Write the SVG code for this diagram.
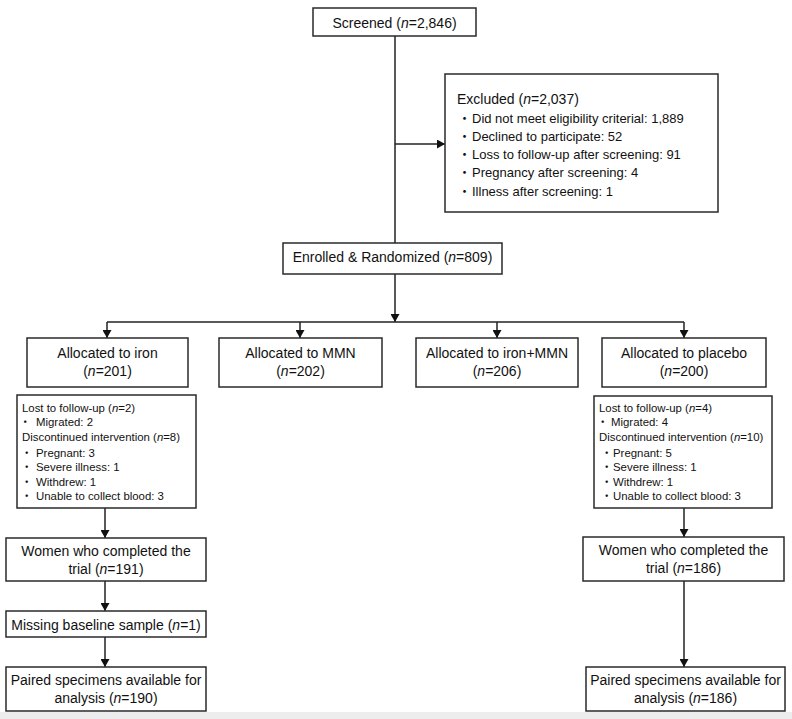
<svg xmlns="http://www.w3.org/2000/svg" width="792" height="719" viewBox="0 0 792 719">
<style>
.box{fill:#fff;stroke:#2a2a2a;stroke-width:1.5}
.ln{fill:none;stroke:#222;stroke-width:1.5}
text{font-family:"Liberation Sans",Arial,"Noto Sans CJK JP",sans-serif;fill:#111}
.m{font-size:14px;text-anchor:middle}
.e{font-size:13px}
.d{font-size:11.4px}
.i{font-style:italic}
</style>
<defs>
<marker id="ah" markerWidth="8" markerHeight="9" refX="8" refY="4.5" orient="auto" markerUnits="userSpaceOnUse"><path d="M0,0 L8,4.5 L0,9 z" fill="#111"/></marker>
</defs>
<rect width="792" height="719" fill="#fff"/>
<rect x="0" y="712" width="792" height="7" fill="#ededed"/>
<g id="connectors">
<path class="ln" d="M395,36 V243"/>
<path class="ln" d="M395,144 H445" marker-end="url(#ah)"/>
<path class="ln" d="M395,274 V322" marker-end="url(#ah)"/>
<path class="ln" d="M107,322 H684"/>
<path class="ln" d="M107,322 V338" marker-end="url(#ah)"/>
<path class="ln" d="M300,322 V338" marker-end="url(#ah)"/>
<path class="ln" d="M497,322 V338" marker-end="url(#ah)"/>
<path class="ln" d="M684,322 V338" marker-end="url(#ah)"/>
<path class="ln" d="M105,508 V538" marker-end="url(#ah)"/>
<path class="ln" d="M105,581 V611" marker-end="url(#ah)"/>
<path class="ln" d="M105,637 V667" marker-end="url(#ah)"/>
<path class="ln" d="M684,508 V537" marker-end="url(#ah)"/>
<path class="ln" d="M684,581 V667" marker-end="url(#ah)"/>
</g>
<g id="screened"><rect class="box" x="313" y="8" width="163" height="28"/><text class="m" x="394.5" y="28">Screened (<tspan class="i">n</tspan>=2,846)</text></g>
<g id="excluded"><rect class="box" x="445" y="74" width="273" height="138"/>
<text x="457" y="104" style="font-size:14px">Excluded (<tspan class="i">n</tspan>=2,037)</text>
<text class="e" y="122.5"><tspan x="458">・</tspan><tspan x="472">Did not meet eligibility criterial: 1,889</tspan></text>
<text class="e" y="140.8"><tspan x="458">・</tspan><tspan x="472">Declined to participate: 52</tspan></text>
<text class="e" y="159.1"><tspan x="458">・</tspan><tspan x="472">Loss to follow-up after screening: 91</tspan></text>
<text class="e" y="177.4"><tspan x="458">・</tspan><tspan x="472">Pregnancy after screening: 4</tspan></text>
<text class="e" y="195.7"><tspan x="458">・</tspan><tspan x="472">Illness after screening: 1</tspan></text>
</g>
<g id="enrolled"><rect class="box" x="283" y="243" width="219" height="31"/><text class="m" x="392.5" y="262">Enrolled &amp; Randomized (<tspan class="i">n</tspan>=809)</text></g>
<g id="alloc-iron"><rect class="box" x="27" y="338" width="161" height="49"/><text class="m" x="107.5" y="358">Allocated to iron</text><text class="m" x="107.5" y="376">(<tspan class="i">n</tspan>=201)</text></g>
<g id="alloc-mmn"><rect class="box" x="219" y="338" width="163" height="49"/><text class="m" x="300.5" y="358">Allocated to MMN</text><text class="m" x="300.5" y="376">(<tspan class="i">n</tspan>=202)</text></g>
<g id="alloc-ironmmn"><rect class="box" x="416" y="338" width="162" height="49"/><text class="m" x="497" y="358">Allocated to iron+MMN</text><text class="m" x="497" y="376">(<tspan class="i">n</tspan>=206)</text></g>
<g id="alloc-placebo"><rect class="box" x="602" y="338" width="164" height="49"/><text class="m" x="684" y="358">Allocated to placebo</text><text class="m" x="684" y="376">(<tspan class="i">n</tspan>=200)</text></g>
<g id="loss-iron"><rect class="box" x="17" y="395" width="179" height="113"/>
<text class="d" x="22" y="412.3">Lost to follow-up (<tspan class="i">n</tspan>=2)</text>
<text class="d" y="426.3"><tspan x="19.5">・</tspan><tspan x="36">Migrated: 2</tspan></text>
<text class="d" x="22" y="440.7">Discontinued intervention (<tspan class="i">n</tspan>=8)</text>
<text class="d" y="456.7"><tspan x="21">・</tspan><tspan x="36">Pregnant: 3</tspan></text>
<text class="d" y="470.7"><tspan x="21">・</tspan><tspan x="36">Severe illness: 1</tspan></text>
<text class="d" y="485.7"><tspan x="21">・</tspan><tspan x="36">Withdrew: 1</tspan></text>
<text class="d" y="499.7"><tspan x="21">・</tspan><tspan x="36">Unable to collect blood: 3</tspan></text>
</g>
<g id="loss-placebo"><rect class="box" x="594" y="396" width="178" height="112"/>
<text class="d" x="599" y="412.3">Lost to follow-up (<tspan class="i">n</tspan>=4)</text>
<text class="d" y="426.3"><tspan x="597">・</tspan><tspan x="611">Migrated: 4</tspan></text>
<text class="d" x="599" y="440.7">Discontinued intervention (<tspan class="i">n</tspan>=10)</text>
<text class="d" y="456.7"><tspan x="601">・</tspan><tspan x="613">Pregnant: 5</tspan></text>
<text class="d" y="470.7"><tspan x="601">・</tspan><tspan x="613">Severe illness: 1</tspan></text>
<text class="d" y="485.7"><tspan x="601">・</tspan><tspan x="613">Withdrew: 1</tspan></text>
<text class="d" y="499.7"><tspan x="601">・</tspan><tspan x="613">Unable to collect blood: 3</tspan></text>
</g>
<g id="completed-iron"><rect class="box" x="6" y="538" width="200" height="43"/><text class="m" x="106" y="556">Women who completed the</text><text class="m" x="106" y="574">trial (<tspan class="i">n</tspan>=191)</text></g>
<g id="missing-iron"><rect class="box" x="6" y="611" width="200" height="26"/><text class="m" x="106" y="630">Missing baseline sample (<tspan class="i">n</tspan>=1)</text></g>
<g id="paired-iron"><rect class="box" x="6" y="667" width="200" height="44"/><text class="m" x="106" y="685">Paired specimens available for</text><text class="m" x="106" y="703">analysis (<tspan class="i">n</tspan>=190)</text></g>
<g id="completed-placebo"><rect class="box" x="583" y="537" width="201" height="44"/><text class="m" x="683.5" y="555">Women who completed the</text><text class="m" x="683.5" y="573">trial (<tspan class="i">n</tspan>=186)</text></g>
<g id="paired-placebo"><rect class="box" x="586" y="667" width="199" height="44"/><text class="m" x="685.5" y="685">Paired specimens available for</text><text class="m" x="685.5" y="703">analysis (<tspan class="i">n</tspan>=186)</text></g>
</svg>
